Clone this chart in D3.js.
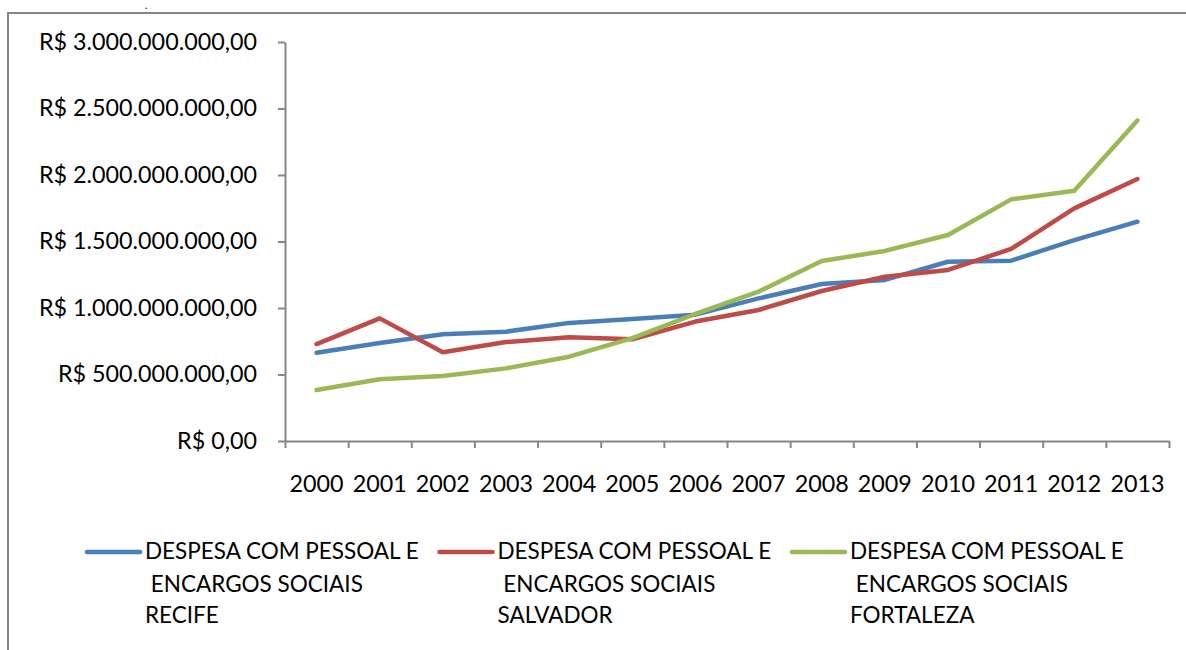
<!DOCTYPE html>
<html>
<head>
<meta charset="utf-8">
<script src="https://cdn.jsdelivr.net/npm/d3@7"></script>
<style>
  html, body { margin: 0; padding: 0; background: #fff; }
  svg { display: block; font-family: Lato, "Open Sans", sans-serif; }
</style>
</head>
<body>
<svg id="chart" width="1186" height="650"></svg>
<script>
// Years on the category axis
const years = ["2000","2001","2002","2003","2004","2005","2006","2007","2008","2009","2010","2011","2012","2013"];

// Personnel and social-charge spending (R$) per city
const recife    = [664e6, 737e6, 802e6, 822e6, 888e6, 918e6, 950e6, 1072e6, 1180e6, 1211e6, 1348e6, 1356e6, 1511e6, 1649e6];
const salvador  = [729e6, 922e6, 667e6, 744e6, 780e6, 765e6, 898e6, 985e6, 1128e6, 1235e6, 1286e6, 1444e6, 1749e6, 1970e6];
const fortaleza = [383e6, 464e6, 489e6, 546e6, 634e6, 774e6, 955e6, 1123e6, 1353e6, 1429e6, 1549e6, 1817e6, 1882e6, 2410e6];

// Value axis ticks
const yTicks = [0, 500e6, 1000e6, 1500e6, 2000e6, 2500e6, 3000e6];

// Legend labels (three lines each)
const seriesLabels = [
  ["DESPESA COM PESSOAL E", " ENCARGOS SOCIAIS", "RECIFE"],
  ["DESPESA COM PESSOAL E", " ENCARGOS SOCIAIS", "SALVADOR"],
  ["DESPESA COM PESSOAL E", " ENCARGOS SOCIAIS", "FORTALEZA"]
];
const seriesColors = ["#4A7EBB", "#BE4B48", "#98B954"];

const series = [recife, salvador, fortaleza].map((vals, i) => ({
  values: vals, label: seriesLabels[i], color: seriesColors[i]
}));

const svg = d3.select("#chart");
const NUM_FONT = 23.3;   // tick and year labels
const LEG_FONT = 22.5;   // legend text
const axisColor = "#868686";

// Frame around the chart
svg.append("path")
  .attr("d", "M8,650 L8,13 L1186,13")
  .attr("fill", "none").attr("stroke", axisColor).attr("stroke-width", 2);

svg.append("text").attr("x", 146).attr("y", 9).attr("font-size", 9)
  .attr("font-weight", "bold").attr("text-anchor", "middle").text(".");

const plot = { left: 285, right: 1169, top: 42, bottom: 441 };

const x = d3.scaleBand().domain(years).range([plot.left, plot.right]).padding(0);
const y = d3.scaleLinear().domain([0, 3e9]).range([plot.bottom, plot.top]);

const brl = d3.formatLocale({
  decimal: ",", thousands: ".", grouping: [3], currency: ["R$ ", ""]
}).format("$,.2f");

// Value axis
const yAxis = svg.append("g")
  .attr("transform", `translate(${plot.left},0)`)
  .call(d3.axisLeft(y).tickValues(yTicks).tickFormat(brl)
    .tickSize(7).tickSizeOuter(0).tickPadding(21));
yAxis.select(".domain").attr("stroke", axisColor).attr("stroke-width", 2);
yAxis.selectAll(".tick line").attr("stroke", axisColor).attr("stroke-width", 2);
yAxis.selectAll(".tick text").attr("font-size", NUM_FONT).attr("fill", "#000")
  .attr("font-family", "Lato, sans-serif").attr("dy", "0.32em");

// Category axis: ticks on band edges, labels at band centres
const edges = d3.range(years.length + 1);
const xEdge = d3.scaleLinear().domain([0, years.length]).range([plot.left, plot.right]);
const xAxis = svg.append("g")
  .attr("transform", `translate(0,${plot.bottom})`)
  .call(d3.axisBottom(xEdge).tickValues(edges).tickFormat("").tickSize(7).tickSizeOuter(0));
xAxis.select(".domain").attr("stroke", axisColor).attr("stroke-width", 2);
xAxis.selectAll(".tick line").attr("stroke", axisColor).attr("stroke-width", 2);

svg.append("g").selectAll("text").data(years).join("text")
  .attr("x", d => x(d) + x.bandwidth() / 2)
  .attr("y", 492)
  .attr("text-anchor", "middle")
  .attr("font-size", NUM_FONT)
  .attr("fill", "#000")
  .text(d => d);

// Series lines
const line = d3.line()
  .x((d, i) => x(years[i]) + x.bandwidth() / 2)
  .y(d => y(d));

svg.append("g").selectAll("path").data(series).join("path")
  .attr("d", d => line(d.values))
  .attr("fill", "none")
  .attr("stroke", d => d.color)
  .attr("stroke-width", 4.5)
  .attr("stroke-linejoin", "round")
  .attr("stroke-linecap", "round");

// Legend
const legendX = d3.scalePoint().domain(d3.range(series.length)).range([87, 792]);
const lg = svg.append("g").selectAll("g").data(series).join("g")
  .attr("transform", (d, i) => `translate(${legendX(i)},552)`);
lg.append("line")
  .attr("x1", 0).attr("x2", 53).attr("y1", 0).attr("y2", 0)
  .attr("stroke", d => d.color).attr("stroke-width", 4.5).attr("stroke-linecap", "round");
lg.each(function(d) {
  const t = d3.select(this).append("text")
    .attr("x", 58).attr("font-size", LEG_FONT).attr("fill", "#000")
    .attr("xml:space", "preserve");
  d.label.forEach((s, k) => {
    t.append("tspan").attr("x", 58).attr("y", [6.5, 40, 71][k]).text(s);
  });
});
</script>
</body>
</html>
